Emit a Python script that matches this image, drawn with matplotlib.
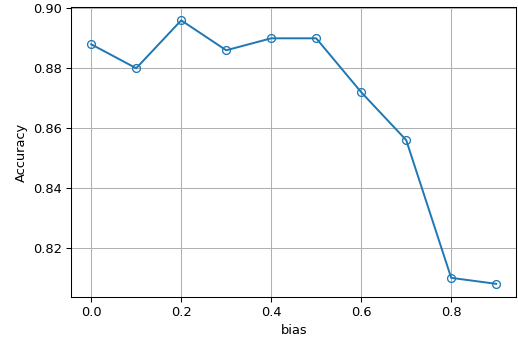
import matplotlib
matplotlib.use("Agg")
import matplotlib.pyplot as plt

bias = [0.0, 0.1, 0.2, 0.3, 0.4, 0.5, 0.6, 0.7, 0.8, 0.9]
accuracy = [0.888, 0.880, 0.896, 0.886, 0.890, 0.890, 0.872, 0.856, 0.810, 0.808]

DPI = 94
fig, ax = plt.subplots(figsize=(518 / DPI, 341 / DPI), dpi=DPI)
fig.subplots_adjust(left=0.137, right=0.997, top=0.979, bottom=0.129)

ax.plot(bias, accuracy, marker="o", markerfacecolor="none", color="#1f77b4")
ax.set_xlabel("bias")
ax.set_ylabel("Accuracy")
ax.grid(True)

fig.savefig("out.png", dpi=DPI)
